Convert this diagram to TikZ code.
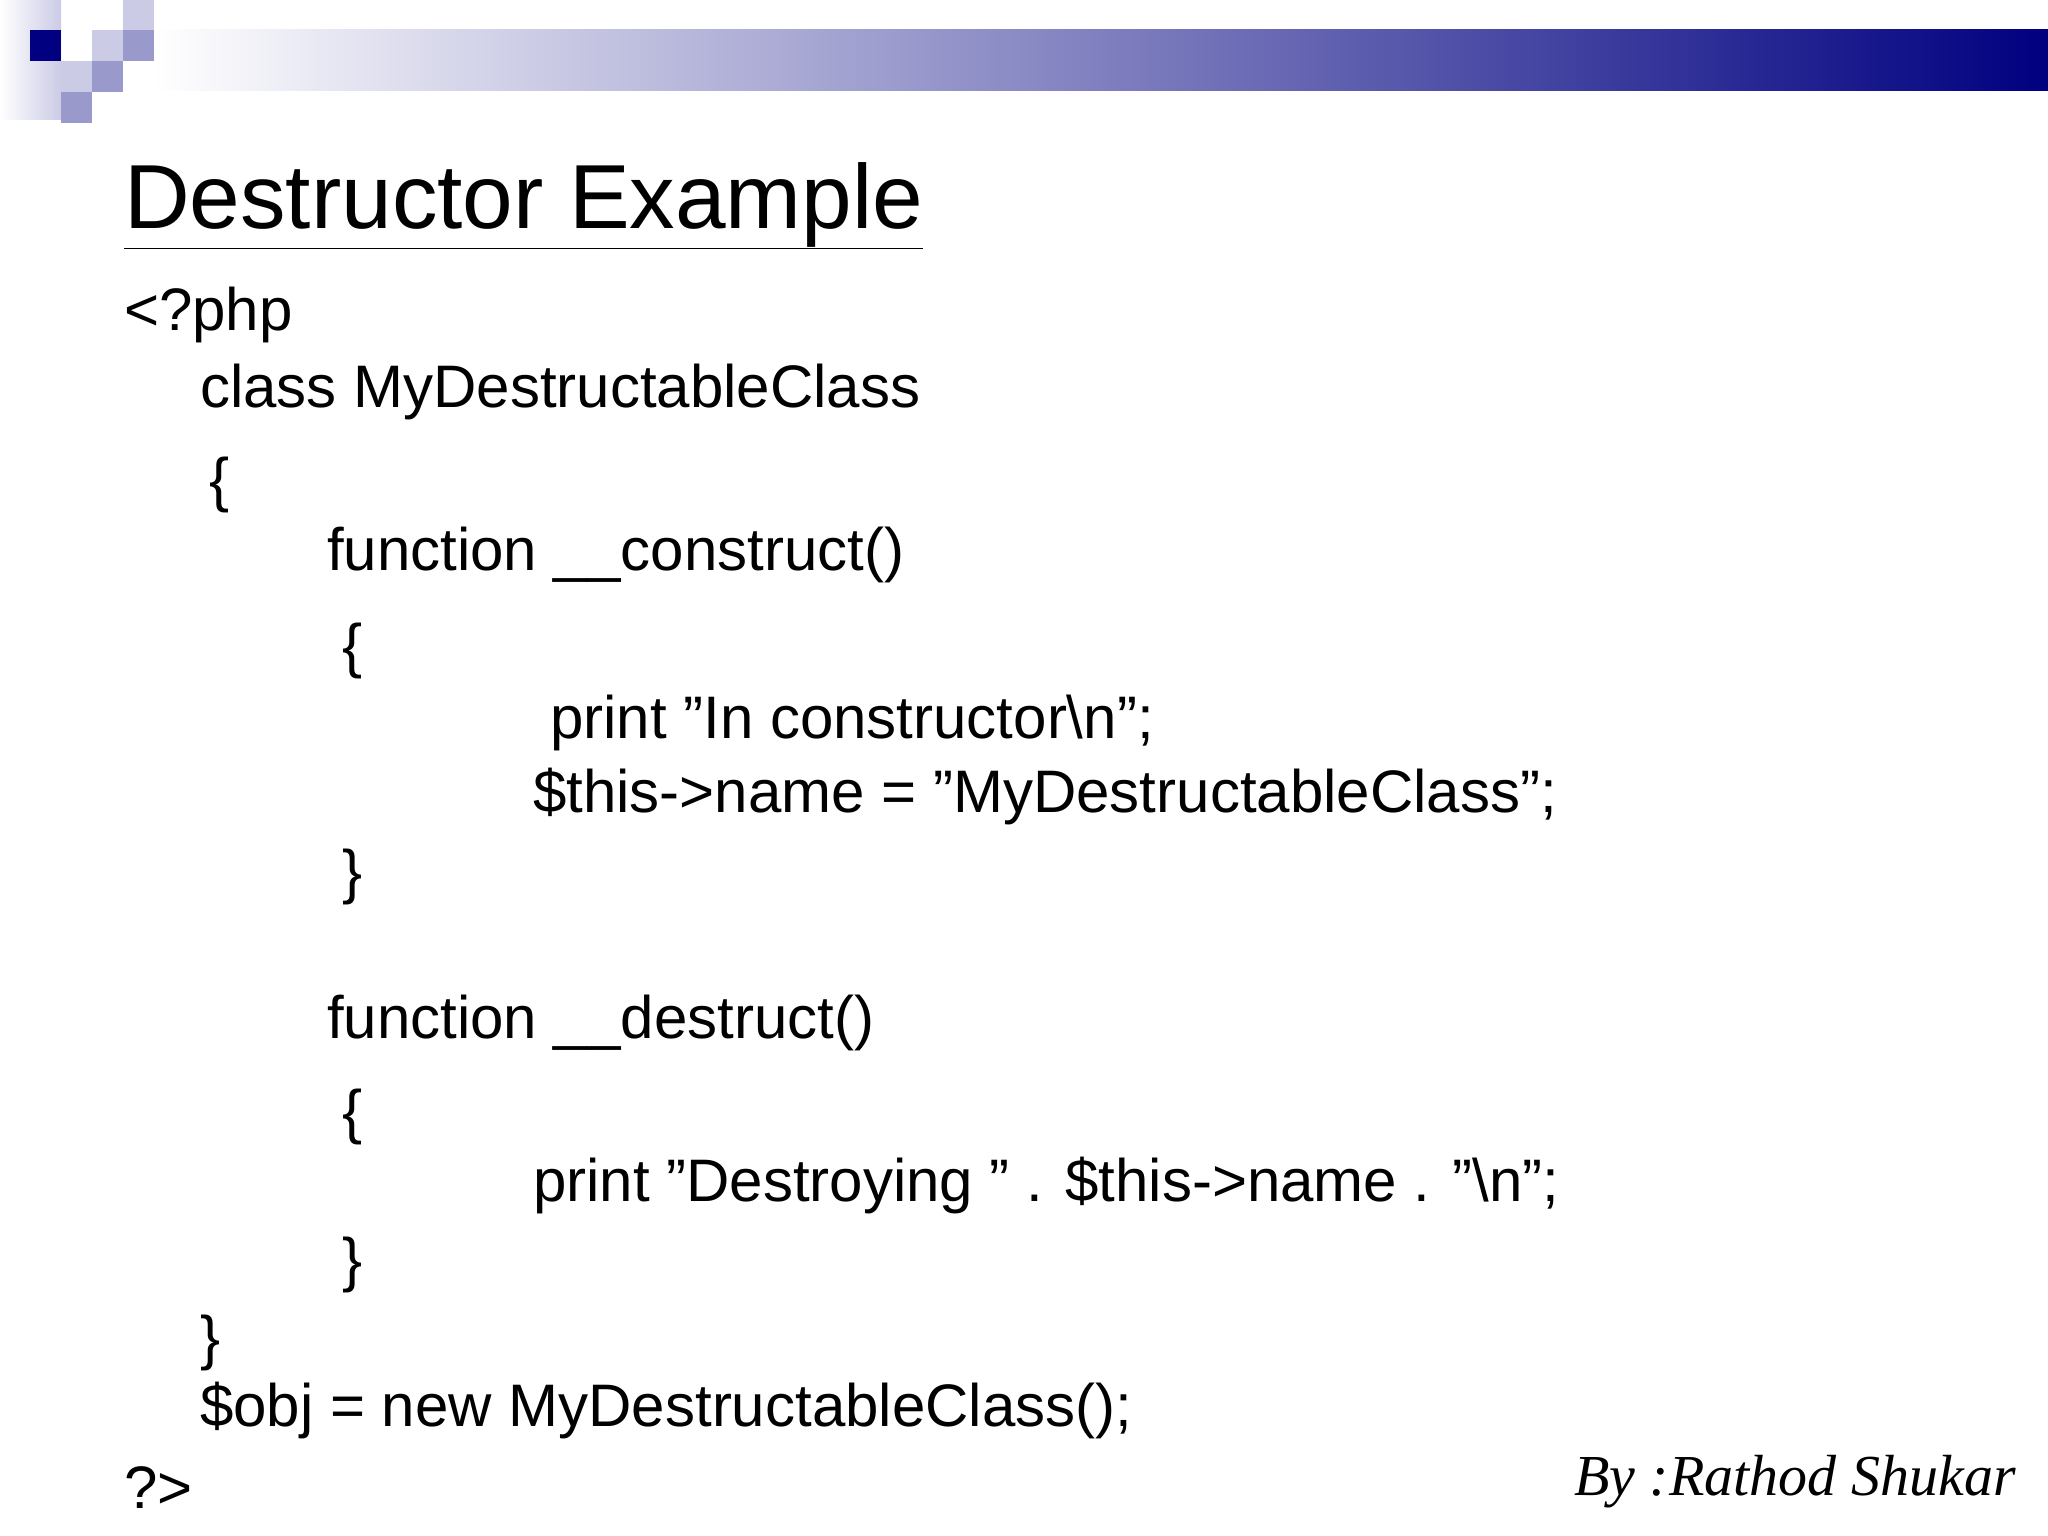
\documentclass[tikz,border=0pt]{standalone}
\usepackage{fontspec}
\setmainfont{Liberation Sans}
\newfontfamily\sig{Liberation Serif}
\definecolor{navy}{HTML}{000080}
\definecolor{lt}{HTML}{CBCBE6}
\definecolor{md}{HTML}{9999CC}
\begin{document}
\begin{tikzpicture}[x=1pt,y=-1pt,
 code/.style={anchor=base west,inner sep=0pt,font=\fontsize{60}{60}\selectfont}]
\useasboundingbox (0,0) rectangle (2048,1536);
\fill[white] (0,0) rectangle (2048,1536);
\shade[left color=white,right color=lt] (0,0) rectangle (61,120);
\shade[left color=white,right color=navy] (154,30) rectangle (2048,91);
\fill[navy] (30,30) rectangle (61,61);
\fill[lt] (123,0) rectangle (154,30);
\fill[lt] (92,30) rectangle (123,61);
\fill[lt] (61,61) rectangle (92,92);
\fill[md] (123,30) rectangle (154,61);
\fill[md] (92,61) rectangle (123,92);
\fill[md] (61,92) rectangle (92,123);
\node[code,font=\fontsize{91}{91}\selectfont] (title) at (124,228) {\underline{Destructor Example}};
\node[code] (l1) at (124,330) {<?php};
\node[code] (l2) at (200,407) {class MyDestructableClass};
\node[code] (l3) at (209,500) {\{};
\node[code] (l4) at (327,570) {function \_\_construct()};
\node[code] (l5) at (342,666) {\{};
\node[code] (l6) at (550,738) {print "In constructor\textbackslash n";};
\node[code] (l7) at (533,812) {\$this->name = "MyDestructableClass";};
\node[code] (l8) at (342,892) {\}};
\node[code] (l9) at (327,1038) {function \_\_destruct()};
\node[code] (l10) at (342,1132) {\{};
\node[code] (l11) at (533,1201) {print "Destroying " . \$this->name . "\textbackslash n";};
\node[code] (l12) at (342,1280) {\}};
\node[code] (l13) at (200,1358) {\}};
\node[code] (l14) at (200,1426) {\$obj = new MyDestructableClass();};
\node[code] (l15) at (124,1508) {?>};
\node[anchor=base west,inner sep=0pt,font=\sig\itshape\fontsize{58}{58}\selectfont] (by) at (1574,1495) {By :Rathod Shukar};
\end{tikzpicture}
\end{document}
